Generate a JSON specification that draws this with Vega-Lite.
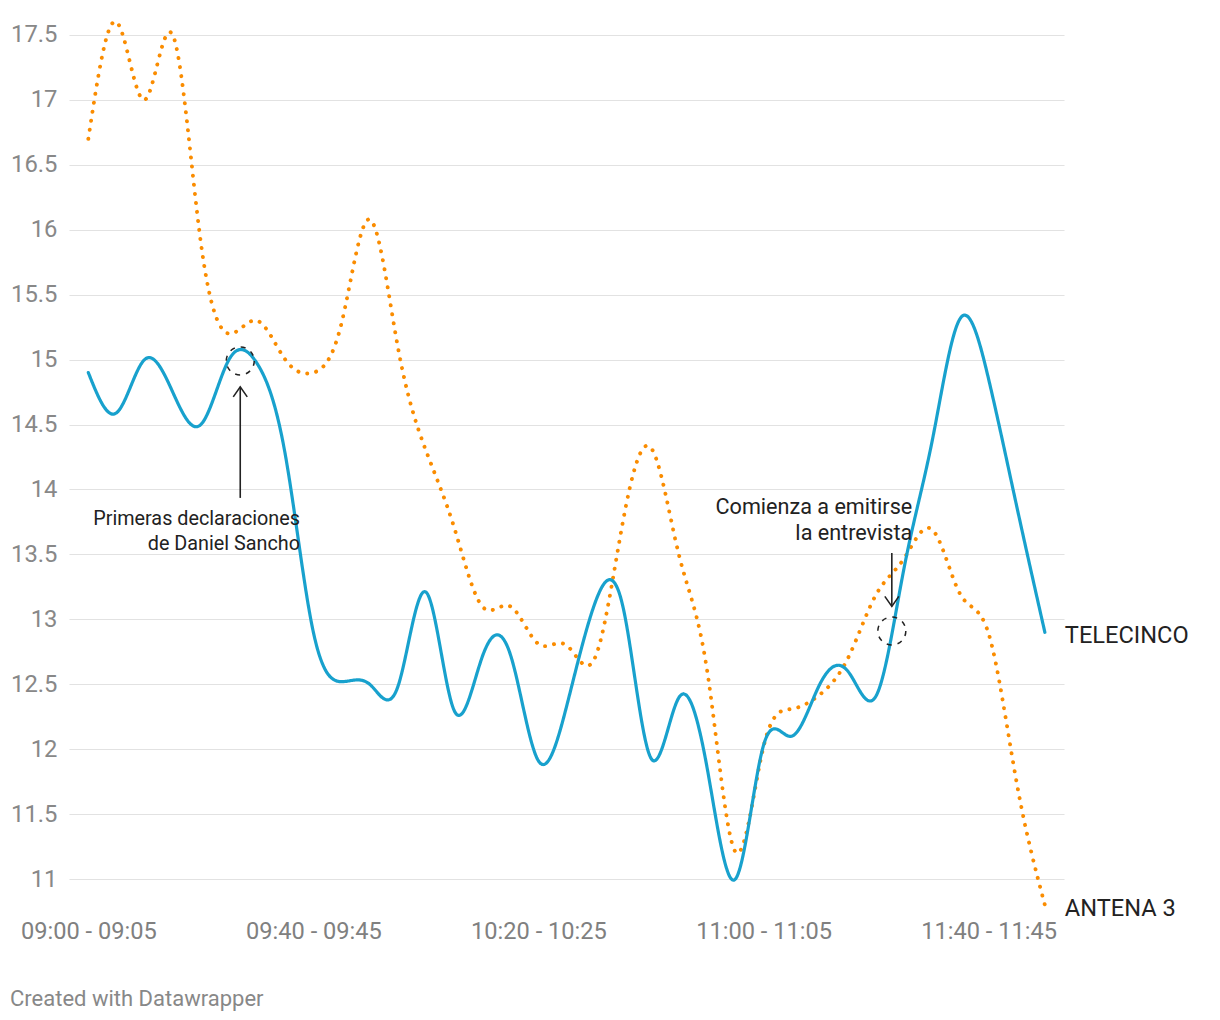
{
  "$schema": "https://vega.github.io/schema/vega-lite/v6.json",
  "width": 995,
  "height": 909,
  "autosize": {"type": "none"},
  "padding": {"left": 69, "top": 9, "right": 156, "bottom": 102},
  "background": "#ffffff",
  "config": {"view": {"stroke": null}, "font": "Roboto"},
  "title": {"text": "Created with Datawrapper", "orient": "bottom", "anchor": "start", "frame": "group", "offset": 46, "dx": -59, "fontSize": 22, "font": "Roboto", "fontWeight": "normal", "color": "#888888", "baseline": "top"},
  "datasets": {
    "audiencia": [
      {"franja": "09:00 - 09:05", "hora": "2023-11-07T09:00:00", "TELECINCO": 14.9, "ANTENA 3": 16.7},
      {"franja": "09:05 - 09:10", "hora": "2023-11-07T09:05:00", "TELECINCO": 14.59, "ANTENA 3": 17.6},
      {"franja": "09:10 - 09:15", "hora": "2023-11-07T09:10:00", "TELECINCO": 15.0, "ANTENA 3": 17.0},
      {"franja": "09:15 - 09:20", "hora": "2023-11-07T09:15:00", "TELECINCO": 14.75, "ANTENA 3": 17.5},
      {"franja": "09:20 - 09:25", "hora": "2023-11-07T09:20:00", "TELECINCO": 14.5, "ANTENA 3": 15.9},
      {"franja": "09:25 - 09:30", "hora": "2023-11-07T09:25:00", "TELECINCO": 15.0, "ANTENA 3": 15.2},
      {"franja": "09:30 - 09:35", "hora": "2023-11-07T09:30:00", "TELECINCO": 14.97, "ANTENA 3": 15.3},
      {"franja": "09:35 - 09:40", "hora": "2023-11-07T09:35:00", "TELECINCO": 14.27, "ANTENA 3": 15.0},
      {"franja": "09:40 - 09:45", "hora": "2023-11-07T09:40:00", "TELECINCO": 12.9, "ANTENA 3": 14.9},
      {"franja": "09:45 - 09:50", "hora": "2023-11-07T09:45:00", "TELECINCO": 12.52, "ANTENA 3": 15.28},
      {"franja": "09:50 - 09:55", "hora": "2023-11-07T09:50:00", "TELECINCO": 12.5, "ANTENA 3": 16.08},
      {"franja": "09:55 - 10:00", "hora": "2023-11-07T09:55:00", "TELECINCO": 12.48, "ANTENA 3": 15.1},
      {"franja": "10:00 - 10:05", "hora": "2023-11-07T10:00:00", "TELECINCO": 13.21, "ANTENA 3": 14.3},
      {"franja": "10:05 - 10:10", "hora": "2023-11-07T10:05:00", "TELECINCO": 12.3, "ANTENA 3": 13.71},
      {"franja": "10:10 - 10:15", "hora": "2023-11-07T10:10:00", "TELECINCO": 12.71, "ANTENA 3": 13.1},
      {"franja": "10:15 - 10:20", "hora": "2023-11-07T10:15:00", "TELECINCO": 12.73, "ANTENA 3": 13.1},
      {"franja": "10:20 - 10:25", "hora": "2023-11-07T10:20:00", "TELECINCO": 11.91, "ANTENA 3": 12.81},
      {"franja": "10:25 - 10:30", "hora": "2023-11-07T10:25:00", "TELECINCO": 12.33, "ANTENA 3": 12.8},
      {"franja": "10:30 - 10:35", "hora": "2023-11-07T10:30:00", "TELECINCO": 13.12, "ANTENA 3": 12.7},
      {"franja": "10:35 - 10:40", "hora": "2023-11-07T10:35:00", "TELECINCO": 13.1, "ANTENA 3": 13.75},
      {"franja": "10:40 - 10:45", "hora": "2023-11-07T10:40:00", "TELECINCO": 11.93, "ANTENA 3": 14.32},
      {"franja": "10:45 - 10:50", "hora": "2023-11-07T10:45:00", "TELECINCO": 12.4, "ANTENA 3": 13.49},
      {"franja": "10:50 - 10:55", "hora": "2023-11-07T10:50:00", "TELECINCO": 11.85, "ANTENA 3": 12.6},
      {"franja": "10:55 - 11:00", "hora": "2023-11-07T10:55:00", "TELECINCO": 11.0, "ANTENA 3": 11.21},
      {"franja": "11:00 - 11:05", "hora": "2023-11-07T11:00:00", "TELECINCO": 12.03, "ANTENA 3": 12.02},
      {"franja": "11:05 - 11:10", "hora": "2023-11-07T11:05:00", "TELECINCO": 12.1, "ANTENA 3": 12.31},
      {"franja": "11:10 - 11:15", "hora": "2023-11-07T11:10:00", "TELECINCO": 12.5, "ANTENA 3": 12.42},
      {"franja": "11:15 - 11:20", "hora": "2023-11-07T11:15:00", "TELECINCO": 12.6, "ANTENA 3": 12.7},
      {"franja": "11:20 - 11:25", "hora": "2023-11-07T11:20:00", "TELECINCO": 12.41, "ANTENA 3": 13.19},
      {"franja": "11:25 - 11:30", "hora": "2023-11-07T11:25:00", "TELECINCO": 13.4, "ANTENA 3": 13.47},
      {"franja": "11:30 - 11:35", "hora": "2023-11-07T11:30:00", "TELECINCO": 14.38, "ANTENA 3": 13.69},
      {"franja": "11:35 - 11:40", "hora": "2023-11-07T11:35:00", "TELECINCO": 15.32, "ANTENA 3": 13.19},
      {"franja": "11:40 - 11:45", "hora": "2023-11-07T11:40:00", "TELECINCO": 14.85, "ANTENA 3": 12.89},
      {"franja": "11:45 - 11:50", "hora": "2023-11-07T11:45:00", "TELECINCO": 13.87, "ANTENA 3": 11.74},
      {"franja": "11:50 - 11:55", "hora": "2023-11-07T11:50:00", "TELECINCO": 12.9, "ANTENA 3": 10.8}
    ],
    "marcas": [
      {"hora": "2023-11-07T09:27:00", "valor": 14.99},
      {"hora": "2023-11-07T11:22:48", "valor": 12.91}
    ],
    "flechas": [
      {"hora": "2023-11-07T09:27:00", "desde": 13.935, "hasta": 14.79, "sentido": "arriba"},
      {"hora": "2023-11-07T11:22:48", "desde": 13.51, "hasta": 13.1, "sentido": "abajo"}
    ],
    "notas": [
      {"nota": 1, "hora": "2023-11-07T09:37:37", "valor": 13.73, "texto": "Primeras declaraciones\nde Daniel Sancho"},
      {"nota": 2, "hora": "2023-11-07T11:26:26", "valor": 13.81, "texto": "Comienza a emitirse\nla entrevista"}
    ]
  },
  "encoding": {
    "x": {
      "field": "hora", "type": "temporal",
      "scale": {"domain": [
        {"year": 2023, "month": 11, "date": 7, "hours": 8, "minutes": 56, "seconds": 34},
        {"year": 2023, "month": 11, "date": 7, "hours": 11, "minutes": 53, "seconds": 24}
      ]},
      "axis": {
        "values": [
          {"year": 2023, "month": 11, "date": 7, "hours": 9, "minutes": 0},
          {"year": 2023, "month": 11, "date": 7, "hours": 9, "minutes": 40},
          {"year": 2023, "month": 11, "date": 7, "hours": 10, "minutes": 20},
          {"year": 2023, "month": 11, "date": 7, "hours": 11, "minutes": 0},
          {"year": 2023, "month": 11, "date": 7, "hours": 11, "minutes": 40}
        ],
        "labelExpr": "timeFormat(time(datum.value), '%H:%M') + ' - ' + timeFormat(time(datum.value) + 300000, '%H:%M')",
        "title": null, "domain": false, "ticks": false, "tickSize": 0, "grid": false,
        "labelFont": "Roboto", "labelFontSize": 23.6, "labelColor": "#808080",
        "labelPadding": 1, "labelFlush": false, "labelOverlap": false
      }
    },
    "y": {
      "field": "valor", "type": "quantitative",
      "scale": {"domain": [10.7, 17.7], "nice": false, "zero": false},
      "axis": {
        "values": [11, 11.5, 12, 12.5, 13, 13.5, 14, 14.5, 15, 15.5, 16, 16.5, 17, 17.5],
        "format": ".1~f", "title": null, "domain": false, "ticks": false, "tickSize": 0,
        "grid": true, "gridColor": "#e2e2e2", "gridWidth": 1.2,
        "labelFont": "Roboto", "labelFontSize": 23.8, "labelColor": "#888888", "labelPadding": 12
      }
    }
  },
  "layer": [
    {
      "data": {"name": "audiencia"},
      "transform": [{"fold": ["ANTENA 3", "TELECINCO"], "as": ["canal", "valor"]}],
      "mark": {"type": "line", "interpolate": "natural", "strokeCap": "round"},
      "encoding": {
        "color": {"field": "canal", "type": "nominal", "scale": {"domain": ["ANTENA 3", "TELECINCO"], "range": ["#fa8c00", "#18a1cd"]}, "legend": null},
        "strokeDash": {"field": "canal", "type": "nominal", "scale": {"domain": ["ANTENA 3", "TELECINCO"], "range": [[0.1, 9], [1, 0]]}, "legend": null},
        "strokeWidth": {"field": "canal", "type": "nominal", "scale": {"domain": ["ANTENA 3", "TELECINCO"], "range": [3.9, 3.2]}, "legend": null},
        "order": {"field": "hora", "type": "temporal"}
      }
    },
    {
      "data": {"name": "audiencia"},
      "transform": [{"fold": ["ANTENA 3", "TELECINCO"], "as": ["canal", "valor"]}],
      "mark": {"type": "text", "align": "left", "baseline": "middle", "dx": 20, "dy": 4, "fontSize": 23.6, "font": "Roboto", "color": "#222222"},
      "encoding": {
        "x": {"field": "hora", "type": "temporal", "aggregate": "max"},
        "y": {"field": "valor", "type": "quantitative", "aggregate": {"argmax": "hora"}},
        "text": {"field": "canal", "type": "nominal"},
        "detail": {"field": "canal", "type": "nominal"}
      }
    },
    {
      "data": {"name": "marcas"},
      "mark": {"type": "point", "shape": "circle", "size": 784, "filled": false, "stroke": "#222222", "strokeWidth": 1.5, "strokeDash": [5, 6], "opacity": 1}
    },
    {
      "data": {"name": "flechas"},
      "mark": {"type": "rule", "stroke": "#222222", "strokeWidth": 1.6},
      "encoding": {
        "y": {"field": "desde", "type": "quantitative"},
        "y2": {"field": "hasta"}
      }
    },
    {
      "data": {"name": "flechas"},
      "mark": {"type": "point", "filled": false, "stroke": "#222222", "strokeWidth": 1.6, "size": 400, "opacity": 1},
      "encoding": {
        "y": {"field": "hasta", "type": "quantitative"},
        "shape": {"field": "sentido", "type": "nominal", "scale": {"domain": ["arriba", "abajo"], "range": ["M-0.7,1L0,0L0.7,1", "M-0.7,-1L0,0L0.7,-1"]}, "legend": null}
      }
    },
    {
      "data": {"name": "notas"},
      "transform": [{"filter": "datum.nota == 1"}],
      "mark": {"type": "text", "align": "right", "baseline": "alphabetic", "lineBreak": "\n", "lineHeight": 25, "fontSize": 19.8, "font": "Roboto", "color": "#222222"},
      "encoding": {
        "text": {"field": "texto", "type": "nominal"}
      }
    },
    {
      "data": {"name": "notas"},
      "transform": [{"filter": "datum.nota == 2"}],
      "mark": {"type": "text", "align": "right", "baseline": "alphabetic", "lineBreak": "\n", "lineHeight": 26, "fontSize": 21.6, "font": "Roboto", "color": "#222222"},
      "encoding": {
        "text": {"field": "texto", "type": "nominal"}
      }
    }
  ]
}
